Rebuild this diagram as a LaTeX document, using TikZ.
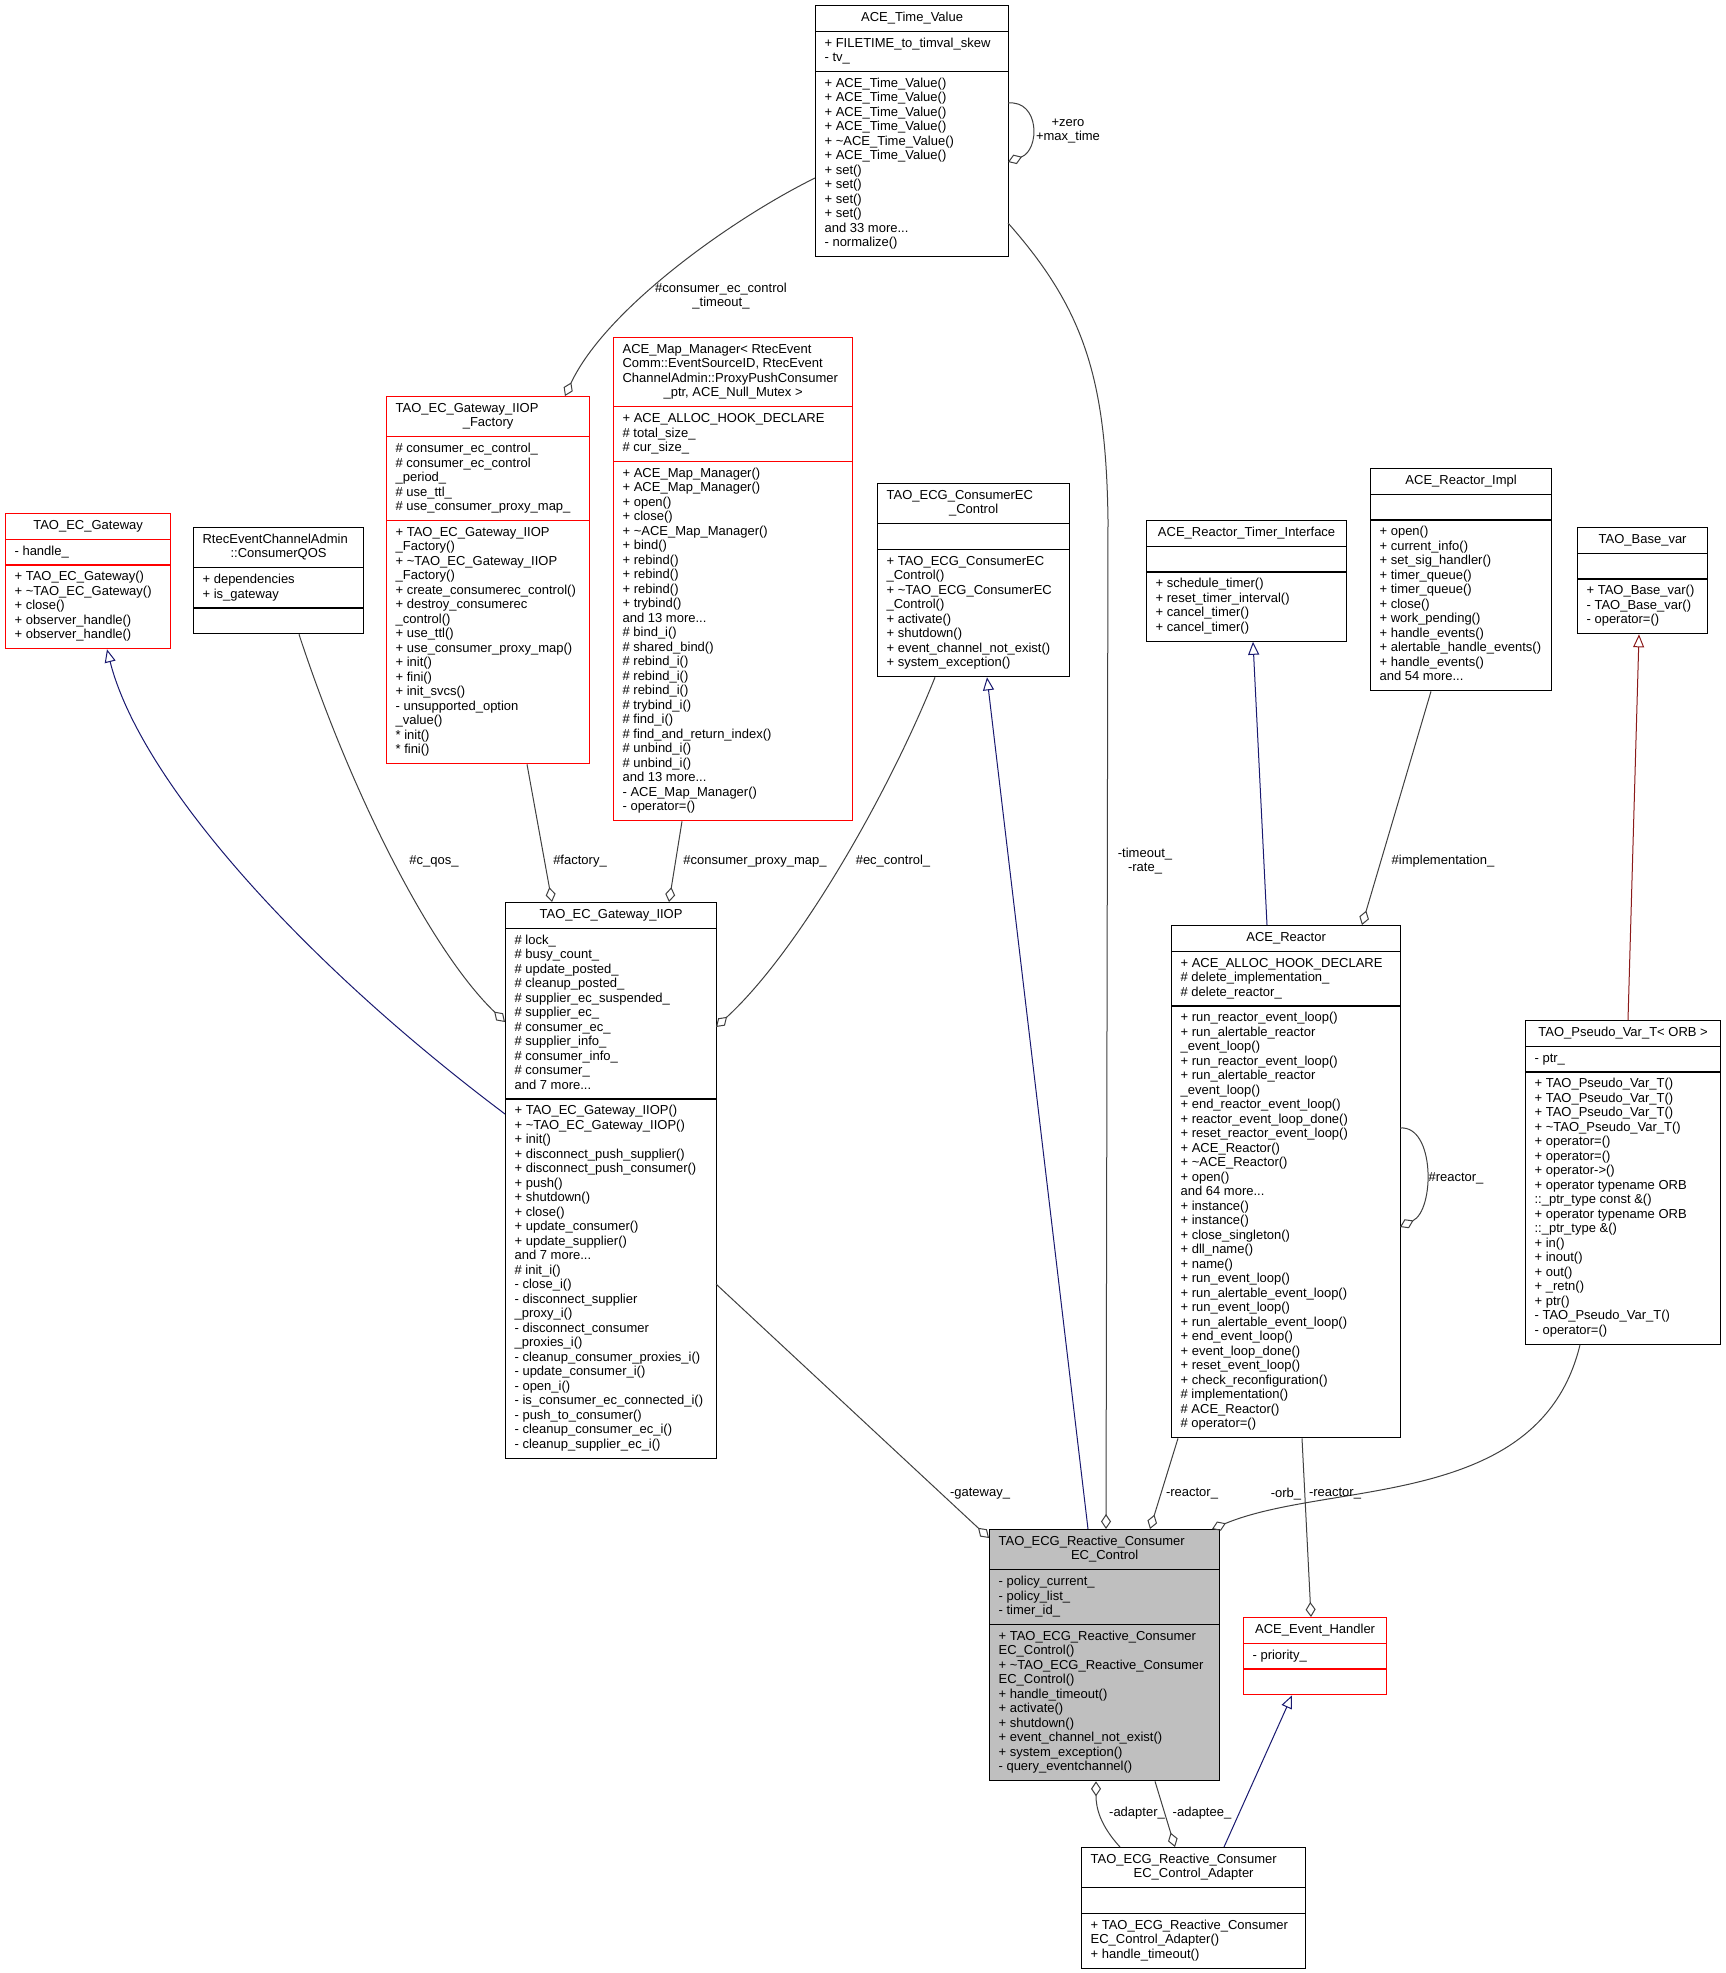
\documentclass[tikz,border=0pt]{standalone}
\usepackage{fontspec}
\setmainfont{Liberation Sans}
\usetikzlibrary{shapes.multipart,arrows.meta,calc}

\definecolor{doxnavy}{HTML}{191970}
\definecolor{doxbrown}{HTML}{8B1A1A}
\definecolor{doxedge}{HTML}{404040}
\definecolor{doxgray}{HTML}{BFBFBF}
\definecolor{doxred}{HTML}{FF0000}

\newcommand{\classname}[1]{\begin{tabular}{@{}c@{}}#1\end{tabular}}
\newcommand{\wrapname}[3]{\begin{tabular}{@{}p{#1}@{}}#2\\\centering #3\end{tabular}}
\newcommand{\members}[1]{\begin{tabular}{@{}l@{}}#1\end{tabular}}
\newcommand{\nomembers}{\members{\mbox{}}}

\tikzset{
  umlclass/.style={rectangle split, rectangle split parts=3,
    rectangle split part align={center,left,left},
    draw=black, line width=1.2pt, anchor=north west,
    inner xsep=9pt, inner ysep=5pt},
  umlred/.style={umlclass, draw=doxred},
  umlfocus/.style={umlclass, fill=doxgray},
  inherit/.style={draw=doxnavy, line width=1pt,
    -{Triangle[open, length=13pt, width=11pt]}},
  privinherit/.style={inherit, draw=doxbrown},
  member/.style={draw=doxedge, line width=1pt,
    -{Diamond[open, length=15pt, width=10pt]}},
  rolelabel/.style={inner sep=0pt, align=center}
}

\begin{document}
\begin{tikzpicture}[x=1pt, y=-1pt, font=\fontsize{13}{14.5}\selectfont]
  \fill[white] (0,0) rectangle (1725,1973);
  \useasboundingbox (0,0) rectangle (1725,1973);

  % classes
  \node[umlclass, minimum width=193pt] (timevalue) at (815,5) {\classname{ACE\_Time\_Value}
    \nodepart{two}\members{+ FILETIME\_to\_timval\_skew\\- tv\_}
    \nodepart{three}\members{+ ACE\_Time\_Value()\\+ ACE\_Time\_Value()\\+ ACE\_Time\_Value()\\+ ACE\_Time\_Value()\\+ \textasciitilde{}ACE\_Time\_Value()\\+ ACE\_Time\_Value()\\+ set()\\+ set()\\+ set()\\+ set()\\and 33 more...\\- normalize()}};

  \node[umlred, minimum width=165pt] (ecgw) at (5,513) {\classname{TAO\_EC\_Gateway}
    \nodepart{two}\members{- handle\_}
    \nodepart{three}\members{+ TAO\_EC\_Gateway()\\+ \textasciitilde{}TAO\_EC\_Gateway()\\+ close()\\+ observer\_handle()\\+ observer\_handle()}};

  \node[umlclass, minimum width=170pt] (qos) at (193,527) {\wrapname{152pt}{RtecEventChannelAdmin}{::ConsumerQOS}
    \nodepart{two}\members{+ dependencies\\+ is\_gateway}
    \nodepart{three}\nomembers};

  \node[umlred, minimum width=203pt] (factory) at (386,396) {\wrapname{185pt}{TAO\_EC\_Gateway\_IIOP}{\_Factory}
    \nodepart{two}\members{\# consumer\_ec\_control\_\\\# consumer\_ec\_control\\\_period\_\\\# use\_ttl\_\\\# use\_consumer\_proxy\_map\_}
    \nodepart{three}\members{+ TAO\_EC\_Gateway\_IIOP\\\_Factory()\\+ \textasciitilde{}TAO\_EC\_Gateway\_IIOP\\\_Factory()\\+ create\_consumerec\_control()\\+ destroy\_consumerec\\\_control()\\+ use\_ttl()\\+ use\_consumer\_proxy\_map()\\+ init()\\+ fini()\\+ init\_svcs()\\- unsupported\_option\\\_value()\\{}* init()\\{}* fini()}};

  \node[umlred, minimum width=239pt] (mapmgr) at (613,337) {\wrapname{221pt}{ACE\_Map\_Manager< RtecEvent\\Comm::EventSourceID, RtecEvent\\ChannelAdmin::ProxyPushConsumer}{\_ptr, ACE\_Null\_Mutex >}
    \nodepart{two}\members{+ ACE\_ALLOC\_HOOK\_DECLARE\\\# total\_size\_\\\# cur\_size\_}
    \nodepart{three}\members{+ ACE\_Map\_Manager()\\+ ACE\_Map\_Manager()\\+ open()\\+ close()\\+ \textasciitilde{}ACE\_Map\_Manager()\\+ bind()\\+ rebind()\\+ rebind()\\+ rebind()\\+ trybind()\\and 13 more...\\\# bind\_i()\\\# shared\_bind()\\\# rebind\_i()\\\# rebind\_i()\\\# rebind\_i()\\\# trybind\_i()\\\# find\_i()\\\# find\_and\_return\_index()\\\# unbind\_i()\\\# unbind\_i()\\and 13 more...\\- ACE\_Map\_Manager()\\- operator=()}};

  \node[umlclass, minimum width=192pt] (consumerctl) at (877,483) {\wrapname{174pt}{TAO\_ECG\_ConsumerEC}{\_Control}
    \nodepart{two}\nomembers
    \nodepart{three}\members{+ TAO\_ECG\_ConsumerEC\\\_Control()\\+ \textasciitilde{}TAO\_ECG\_ConsumerEC\\\_Control()\\+ activate()\\+ shutdown()\\+ event\_channel\_not\_exist()\\+ system\_exception()}};

  \node[umlclass, minimum width=200pt] (timerif) at (1146,520) {\classname{ACE\_Reactor\_Timer\_Interface}
    \nodepart{two}\nomembers
    \nodepart{three}\members{+ schedule\_timer()\\+ reset\_timer\_interval()\\+ cancel\_timer()\\+ cancel\_timer()}};

  \node[umlclass, minimum width=181pt] (reactorimpl) at (1370,468) {\classname{ACE\_Reactor\_Impl}
    \nodepart{two}\nomembers
    \nodepart{three}\members{+ open()\\+ current\_info()\\+ set\_sig\_handler()\\+ timer\_queue()\\+ timer\_queue()\\+ close()\\+ work\_pending()\\+ handle\_events()\\+ alertable\_handle\_events()\\+ handle\_events()\\and 54 more...}};

  \node[umlclass, minimum width=130pt] (basevar) at (1577,527) {\classname{TAO\_Base\_var}
    \nodepart{two}\nomembers
    \nodepart{three}\members{+ TAO\_Base\_var()\\- TAO\_Base\_var()\\- operator=()}};

  \node[umlclass, minimum width=211pt] (iiop) at (505,902) {\classname{TAO\_EC\_Gateway\_IIOP}
    \nodepart{two}\members{\# lock\_\\\# busy\_count\_\\\# update\_posted\_\\\# cleanup\_posted\_\\\# supplier\_ec\_suspended\_\\\# supplier\_ec\_\\\# consumer\_ec\_\\\# supplier\_info\_\\\# consumer\_info\_\\\# consumer\_\\and 7 more...}
    \nodepart{three}\members{+ TAO\_EC\_Gateway\_IIOP()\\+ \textasciitilde{}TAO\_EC\_Gateway\_IIOP()\\+ init()\\+ disconnect\_push\_supplier()\\+ disconnect\_push\_consumer()\\+ push()\\+ shutdown()\\+ close()\\+ update\_consumer()\\+ update\_supplier()\\and 7 more...\\\# init\_i()\\- close\_i()\\- disconnect\_supplier\\\_proxy\_i()\\- disconnect\_consumer\\\_proxies\_i()\\- cleanup\_consumer\_proxies\_i()\\- update\_consumer\_i()\\- open\_i()\\- is\_consumer\_ec\_connected\_i()\\- push\_to\_consumer()\\- cleanup\_consumer\_ec\_i()\\- cleanup\_supplier\_ec\_i()}};

  \node[umlclass, minimum width=229pt] (reactor) at (1171,925) {\classname{ACE\_Reactor}
    \nodepart{two}\members{+ ACE\_ALLOC\_HOOK\_DECLARE\\\# delete\_implementation\_\\\# delete\_reactor\_}
    \nodepart{three}\members{+ run\_reactor\_event\_loop()\\+ run\_alertable\_reactor\\\_event\_loop()\\+ run\_reactor\_event\_loop()\\+ run\_alertable\_reactor\\\_event\_loop()\\+ end\_reactor\_event\_loop()\\+ reactor\_event\_loop\_done()\\+ reset\_reactor\_event\_loop()\\+ ACE\_Reactor()\\+ \textasciitilde{}ACE\_Reactor()\\+ open()\\and 64 more...\\+ instance()\\+ instance()\\+ close\_singleton()\\+ dll\_name()\\+ name()\\+ run\_event\_loop()\\+ run\_alertable\_event\_loop()\\+ run\_event\_loop()\\+ run\_alertable\_event\_loop()\\+ end\_event\_loop()\\+ event\_loop\_done()\\+ reset\_event\_loop()\\+ check\_reconfiguration()\\\# implementation()\\\# ACE\_Reactor()\\\# operator=()}};

  \node[umlclass, minimum width=195pt] (pseudovar) at (1525,1020) {\classname{TAO\_Pseudo\_Var\_T< ORB >}
    \nodepart{two}\members{- ptr\_}
    \nodepart{three}\members{+ TAO\_Pseudo\_Var\_T()\\+ TAO\_Pseudo\_Var\_T()\\+ TAO\_Pseudo\_Var\_T()\\+ \textasciitilde{}TAO\_Pseudo\_Var\_T()\\+ operator=()\\+ operator=()\\+ operator->()\\+ operator typename ORB\\::\_ptr\_type const \&()\\+ operator typename ORB\\::\_ptr\_type \&()\\+ in()\\+ inout()\\+ out()\\+ \_retn()\\+ ptr()\\- TAO\_Pseudo\_Var\_T()\\- operator=()}};

  \node[umlfocus, minimum width=230pt] (reactive) at (989,1529) {\wrapname{212pt}{TAO\_ECG\_Reactive\_Consumer}{EC\_Control}
    \nodepart{two}\members{- policy\_current\_\\- policy\_list\_\\- timer\_id\_}
    \nodepart{three}\members{+ TAO\_ECG\_Reactive\_Consumer\\EC\_Control()\\+ \textasciitilde{}TAO\_ECG\_Reactive\_Consumer\\EC\_Control()\\+ handle\_timeout()\\+ activate()\\+ shutdown()\\+ event\_channel\_not\_exist()\\+ system\_exception()\\- query\_eventchannel()}};

  \node[umlred, minimum width=143pt] (evhandler) at (1243,1617) {\classname{ACE\_Event\_Handler}
    \nodepart{two}\members{- priority\_}
    \nodepart{three}\nomembers};

  \node[umlclass, minimum width=224pt] (adapter) at (1081,1847) {\wrapname{206pt}{TAO\_ECG\_Reactive\_Consumer}{EC\_Control\_Adapter}
    \nodepart{two}\nomembers
    \nodepart{three}\members{+ TAO\_ECG\_Reactive\_Consumer\\EC\_Control\_Adapter()\\+ handle\_timeout()}};

  % inheritance
  \draw[inherit] ($(iiop.north west)+(0,212)$) .. controls (300,960) and (140,780) .. ($(ecgw.south west)+(102,0)$);
  \draw[inherit] ($(reactive.north west)+(99,0)$) -- ($(consumerctl.south west)+(110,0)$);
  \draw[inherit] ($(reactor.north west)+(96,0)$) -- ($(timerif.south west)+(107,0)$);
  \draw[privinherit] ($(pseudovar.north west)+(103,0)$) -- ($(basevar.south west)+(62,0)$);
  \draw[inherit] ($(adapter.north west)+(143,0)$) -- ($(evhandler.south west)+(49,0)$);

  % members
  \draw[member] ($(timevalue.north west)+(0,173)$) .. controls (730,220) and (605,310) .. ($(factory.north west)+(179,0)$);
  \draw[member] ($(timevalue.north west)+(193,218)$) .. controls (1085,310) and (1106,380) .. (1108,520) -- ($(reactive.north west)+(117,0)$);
  \draw[member] ($(timevalue.north west)+(193,98)$) .. controls (1040,100) and (1040,150) .. ($(timevalue.north west)+(193,157)$);
  \draw[member] ($(qos.south west)+(106,0)$) .. controls (350,790) and (430,950) .. ($(iiop.north west)+(0,120)$);
  \draw[member] ($(factory.south west)+(141,0)$) -- ($(iiop.north west)+(47,0)$);
  \draw[member] ($(mapmgr.south west)+(69,0)$) -- ($(iiop.north west)+(164,0)$);
  \draw[member] ($(consumerctl.south west)+(58,0)$) .. controls (890,790) and (800,950) .. ($(iiop.north west)+(211,125)$);
  \draw[member] ($(iiop.north west)+(211,382)$) -- ($(reactive.north west)+(0,9)$);
  \draw[member] ($(reactorimpl.south west)+(61,0)$) -- ($(reactor.north west)+(191,0)$);
  \draw[member] ($(reactor.north west)+(229,203)$) .. controls (1435,1125) and (1435,1210) .. ($(reactor.north west)+(229,302)$);
  \draw[member] ($(reactor.south west)+(7,0)$) -- ($(reactive.north west)+(161,0)$);
  \draw[member] ($(reactor.south west)+(131,0)$) -- ($(evhandler.north west)+(68,0)$);
  \draw[member] ($(pseudovar.south west)+(55,0)$) .. controls (1540,1510) and (1330,1480) .. ($(reactive.north west)+(223,0)$);
  \draw[member] ($(adapter.north west)+(39,0)$) .. controls (1100,1825) and (1096,1808) .. ($(reactive.south west)+(107,0)$);
  \draw[member] ($(reactive.south west)+(166,0)$) -- ($(adapter.north west)+(94,0)$);

  % role labels
  \node[rolelabel] (lzero) at (1068,131) {+zero\\+max\_time};
  \node[rolelabel] (ltimeout) at (721,296) {\#consumer\_ec\_control\\\_timeout\_};
  \node[rolelabel] (lqos) at (434,861) {\#c\_qos\_};
  \node[rolelabel] (lfactory) at (580,861) {\#factory\_};
  \node[rolelabel] (lproxymap) at (755,861) {\#consumer\_proxy\_map\_};
  \node[rolelabel] (lecctl) at (893,861) {\#ec\_control\_};
  \node[rolelabel] (lrate) at (1145,861) {-timeout\_\\-rate\_};
  \node[rolelabel] (limpl) at (1443,861) {\#implementation\_};
  \node[rolelabel] (lselfreactor) at (1456,1178) {\#reactor\_};
  \node[rolelabel] (lgateway) at (980,1494) {-gateway\_};
  \node[rolelabel] (lreactor) at (1192,1494) {-reactor\_};
  \node[rolelabel] (lorb) at (1286,1494) {-orb\_};
  \node[rolelabel] (lhreactor) at (1335,1494) {-reactor\_};
  \node[rolelabel] (ladapter) at (1137,1813) {-adapter\_};
  \node[rolelabel] (ladaptee) at (1202,1813) {-adaptee\_};
\end{tikzpicture}
\end{document}
